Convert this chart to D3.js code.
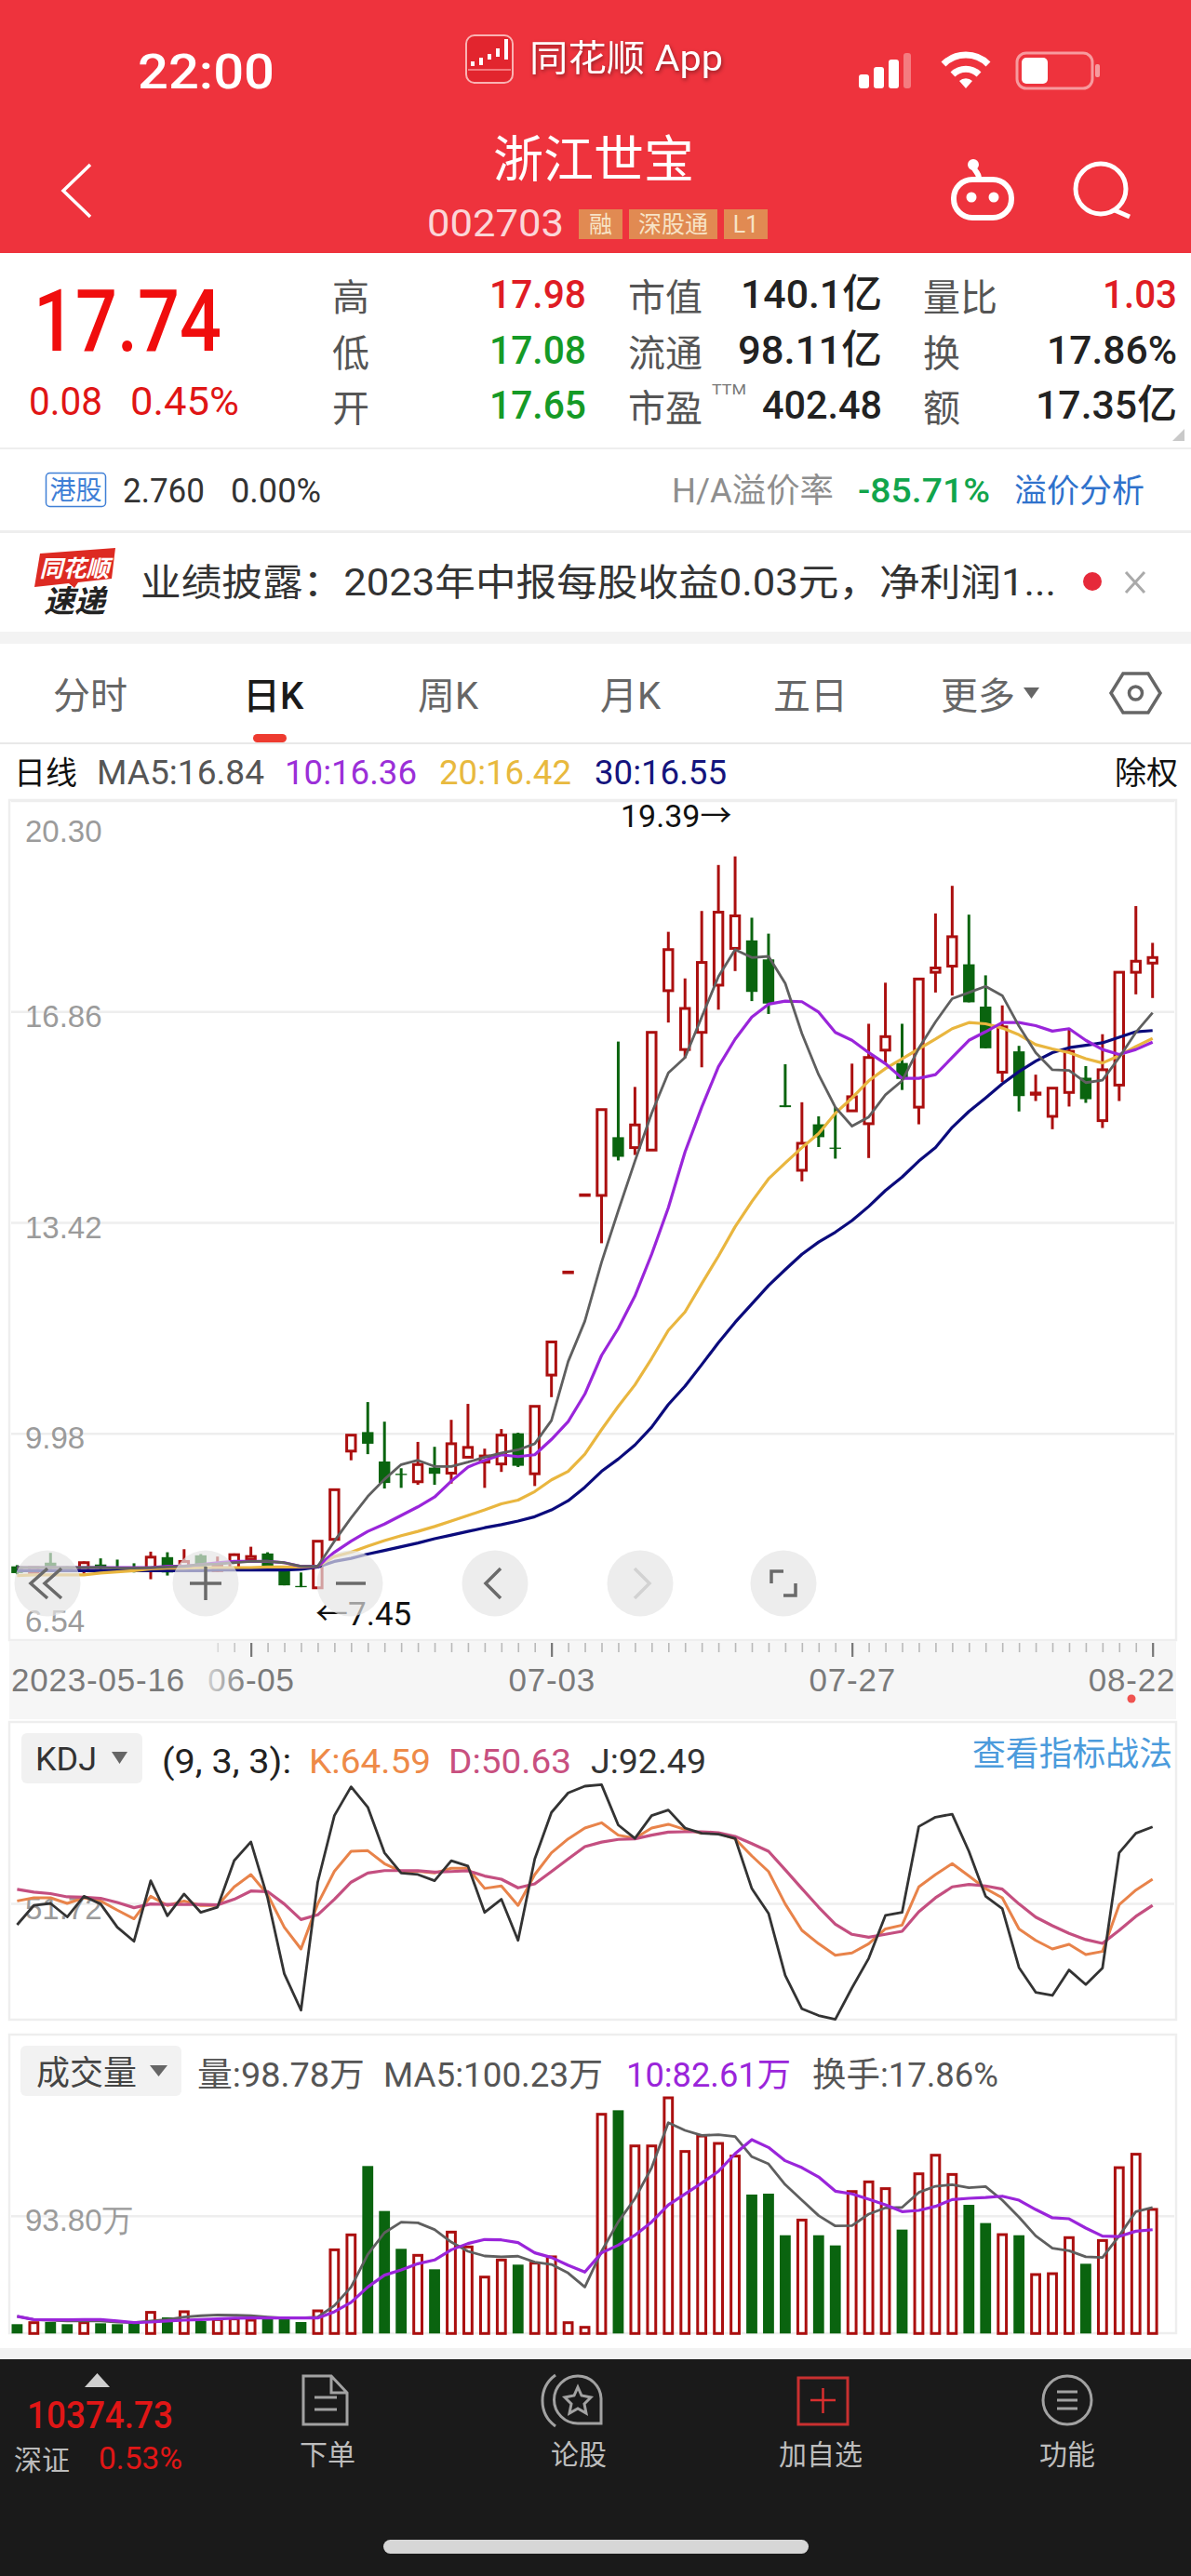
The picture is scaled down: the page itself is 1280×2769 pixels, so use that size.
<!DOCTYPE html>
<html lang="zh">
<head>
<meta charset="utf-8">
<title>浙江世宝 日K</title>
<script src="https://cdn.jsdelivr.net/npm/d3@7"></script>
<style>
  html, body { margin: 0; padding: 0; background: #fff; }
  svg { display: block; font-family: Roboto, "Noto Sans CJK SC", sans-serif; }
</style>
</head>
<body>
<div id="chart"></div>
<script>
const opens = [7.81,7.71,7.87,7.79,7.74,7.84,7.79,7.79,7.77,7.96,7.77,7.99,7.74,7.77,7.92,8.02,7.77,7.49,7.46,8.25,9.69,10.00,9.52,9.32,9.19,9.42,9.33,9.59,9.51,9.48,9.98,9.32,10.93,12.60,13.86,13.86,14.81,14.64,14.60,17.20,16.24,16.52,17.29,17.89,18.02,17.71,15.33,14.27,15.02,14.64,15.24,15.03,16.23,16.02,15.30,17.50,17.60,17.63,16.94,15.87,16.21,15.51,15.15,15.54,15.78,15.08,15.66,17.50,17.65];
const highs = [7.83,7.80,8.03,7.81,7.89,7.94,7.92,7.86,8.05,8.04,8.09,8.01,7.97,8.02,8.13,8.04,7.79,7.71,8.22,9.06,9.95,10.49,10.17,9.41,9.84,9.76,10.20,10.46,9.73,10.05,9.99,10.42,11.47,12.61,13.87,15.26,16.37,15.63,16.52,18.16,17.40,18.50,19.25,19.39,18.39,18.13,16.00,15.38,15.15,15.30,16.01,16.66,17.33,16.66,17.39,18.46,18.91,18.44,17.45,16.96,16.30,15.83,15.61,16.57,15.97,16.49,17.50,18.58,17.98];
const lows = [7.68,7.70,7.74,7.72,7.69,7.74,7.77,7.71,7.60,7.66,7.77,7.77,7.72,7.75,7.89,7.77,7.50,7.47,7.45,8.25,9.54,9.64,9.08,9.09,9.14,9.14,9.16,9.59,9.09,9.35,9.43,9.12,10.57,12.60,13.86,13.08,14.43,14.52,14.60,16.68,16.10,15.95,16.89,17.52,17.03,16.82,15.30,14.09,14.65,14.46,15.24,14.47,16.01,15.58,15.02,17.17,17.12,17.01,16.26,15.71,15.23,15.40,14.94,15.31,15.37,14.96,15.40,17.14,17.08];
const closes = [7.70,7.79,7.77,7.74,7.87,7.77,7.77,7.77,7.96,7.71,7.89,7.77,7.82,8.00,7.97,7.77,7.50,7.47,8.22,9.06,9.95,9.81,9.17,9.30,9.47,9.32,9.81,9.75,9.61,9.95,9.45,10.42,11.47,12.61,13.87,15.26,14.49,15.01,16.52,17.87,16.91,17.66,18.48,18.42,17.18,16.99,15.30,14.71,14.81,14.62,15.47,16.11,16.45,15.76,17.39,17.57,18.08,17.01,16.26,16.61,15.48,15.53,15.61,16.21,15.43,15.91,17.50,17.68,17.74];

const ma5 = [7.79,7.79,7.79,7.79,7.79,7.79,7.78,7.78,7.79,7.80,7.81,7.84,7.85,7.87,7.89,7.89,7.87,7.81,7.81,8.22,8.60,8.95,9.23,9.47,9.54,9.44,9.44,9.51,9.59,9.66,9.71,9.81,10.19,11.15,11.81,12.77,13.61,14.42,15.20,15.86,16.11,16.77,17.43,17.87,17.74,17.76,17.32,16.50,15.83,15.30,14.99,15.14,15.50,15.73,16.26,16.69,17.07,17.17,17.27,17.12,16.62,16.19,15.91,15.90,15.70,15.74,16.11,16.52,16.84];
const ma10 = [7.79,7.79,7.79,7.79,7.79,7.79,7.79,7.79,7.79,7.81,7.81,7.84,7.87,7.89,7.89,7.89,7.87,7.81,7.81,8.04,8.22,8.38,8.50,8.64,8.78,8.94,9.20,9.43,9.54,9.63,9.60,9.63,9.88,10.17,10.62,11.25,11.69,12.22,12.90,13.66,14.57,15.30,15.96,16.41,16.77,16.98,17.03,17.02,16.85,16.52,16.39,16.19,16.01,15.77,15.77,15.83,16.11,16.39,16.53,16.68,16.68,16.63,16.54,16.58,16.39,16.24,16.16,16.24,16.36];
const ma20 = [7.66,7.67,7.67,7.67,7.67,7.70,7.72,7.74,7.77,7.78,7.78,7.79,7.79,7.79,7.79,7.80,7.80,7.80,7.81,7.97,8.04,8.14,8.23,8.31,8.38,8.46,8.55,8.64,8.73,8.83,8.89,9.03,9.22,9.36,9.64,10.04,10.42,10.77,11.20,11.66,11.96,12.42,12.87,13.35,13.76,14.13,14.39,14.64,14.87,15.20,15.45,15.73,15.93,16.09,16.25,16.41,16.58,16.68,16.66,16.59,16.48,16.32,16.25,16.19,16.09,16.02,16.14,16.29,16.42];
const ma30 = [7.74,7.74,7.74,7.74,7.74,7.74,7.74,7.74,7.74,7.74,7.74,7.74,7.75,7.75,7.75,7.75,7.75,7.76,7.80,7.89,7.94,8.01,8.07,8.13,8.19,8.26,8.32,8.38,8.44,8.49,8.55,8.62,8.73,8.88,9.10,9.36,9.56,9.79,10.08,10.45,10.75,11.10,11.46,11.79,12.09,12.39,12.65,12.90,13.10,13.26,13.45,13.68,13.94,14.16,14.42,14.64,14.97,15.23,15.45,15.68,15.88,16.05,16.19,16.27,16.31,16.35,16.44,16.53,16.55];

const kLine = [53.0,54.7,54.7,51.7,54.7,53.0,48.1,43.5,55.5,50.6,53.0,50.6,50.6,60.5,67.1,56.4,39.0,27.4,51.4,68.8,79.5,79.8,72.9,68.8,68.8,67.9,70.4,70.4,59.7,61.0,50.6,67.1,78.7,86.1,91.9,94.7,88.1,86.4,91.9,93.9,91.1,89.1,89.1,86.1,77.0,68.7,51.4,37.3,30.2,24.1,25.3,30.2,38.1,40.1,60.5,67.1,72.9,66.3,59.6,54.7,38.1,32.0,27.4,29.9,24.4,26.1,51.0,58.8,64.59];
const dLine = [59.2,57.7,56.9,55.2,55.0,54.4,52.2,49.4,51.4,51.1,51.2,51.1,50.9,53.9,58.3,58.0,51.4,43.1,45.6,53.9,63.0,67.9,69.2,69.2,69.1,68.4,68.7,69.1,66.3,64.6,60.0,62.1,68.7,75.4,82.0,84.4,85.8,86.1,88.1,89.7,89.9,89.9,89.4,87.4,83.6,79.5,69.6,59.6,49.7,40.6,35.2,33.7,35.2,36.8,47.2,54.7,60.5,61.8,61.0,59.3,51.4,44.4,39.8,35.7,32.4,30.4,37.3,44.8,50.63];
const jLine = [40.3,50.6,51.7,44.5,55.5,51.4,39.0,31.5,63.8,45.1,56.7,46.9,49.7,74.5,84.5,54.7,14.2,-5.2,63.0,98.5,113.9,103.0,78.7,67.9,67.1,63.8,74.5,71.6,46.9,53.9,32.0,75.4,100.2,110.6,114.2,115.0,93.5,86.4,98.5,101.5,91.9,89.1,88.6,86.4,59.6,46.4,13.3,-4.5,-8.1,-10.1,6.7,22.4,45.3,46.9,92.7,97.7,99.3,79.5,55.5,48.9,17.5,4.3,2.6,16.2,8.4,17.2,78.7,89.1,92.49];

const volume = [7.4,8.6,9.1,7.4,8.6,8.1,7.4,8.6,16.8,12.8,17.3,9.9,11.1,11.6,10.6,11.6,12.3,9.1,18.0,66.6,78.5,133.3,97.5,67.4,62.2,51.1,80.7,68.9,44.9,58.5,54.8,56.0,61.0,8.6,4.9,174.5,177.7,149.3,149.3,187.6,144.9,157.2,151.3,141.2,110.6,111.3,78.2,90.3,78.2,70.1,113.0,120.7,115.3,82.7,127.1,141.9,126.6,102.4,87.9,78.7,78.2,46.9,47.6,76.3,55.5,74.0,132.0,142.7,98.78];
const volMa5 = [13.6,11.1,10.6,9.9,9.9,9.9,9.1,8.6,9.9,11.1,13.1,14.1,14.8,14.6,14.1,13.1,12.3,12.3,13.1,22.2,37.0,62.9,80.2,88.6,88.1,82.7,72.8,65.4,61.7,61.0,61.5,56.8,55.0,48.1,37.0,65.4,88.8,107.4,132.0,167.8,161.7,157.7,158.2,156.7,140.7,135.0,118.5,106.1,93.8,85.6,85.9,95.0,100.0,100.4,112.3,117.2,118.5,116.0,117.0,106.1,92.6,77.7,67.9,65.9,61.0,60.5,77.7,97.0,100.23];
const volMa10 = [13.6,11.1,10.9,10.9,11.1,11.1,9.9,8.6,9.1,9.9,10.6,11.1,11.6,12.1,12.3,12.3,12.3,12.3,12.3,17.3,24.7,37.0,46.4,50.6,55.5,58.5,66.6,71.6,74.8,74.5,72.3,64.2,60.5,54.3,48.9,64.2,70.3,78.2,88.8,102.4,111.1,119.7,129.1,143.1,154.3,148.1,137.5,132.0,124.6,113.3,111.1,106.9,102.4,97.0,98.0,101.2,106.6,107.6,108.3,109.3,106.1,98.7,92.1,91.3,83.9,77.5,77.2,81.4,82.61];

const priceTicks = [6.54, 9.98, 13.42, 16.86, 20.3];
const dateTickAt = [0, 14, 32, 50, 68];
const dateLabels = ['2023-05-16', '06-05', '07-03', '07-27', '08-22'];
const kdjTick = [51.72];
const volumeTick = [93.8];

const maLegend = [['MA5:16.84', '#555555'], ['10:16.36', '#9b2fd8'], ['20:16.42', '#e8b93e'], ['30:16.55', '#14147d']];
const maColors = ['#5f5f5f', '#9a25da', '#e9b63f', '#0b0b7c'];
const tabs = ['分时', '日K', '周K', '月K', '五日', '更多'];

const RED = '#ab0f0f';
const GREEN = '#0a640f';

const svg = d3.select('#chart').append('svg').attr('width', 1280).attr('height', 2769);

const text = (g, x, y, str, size, fill, opts = {}) =>
  g.append('text')
    .attr('x', x)
    .attr('y', y)
    .attr('font-size', size)
    .attr('fill', fill)
    .attr('text-anchor', opts.anchor || 'start')
    .attr('font-weight', opts.weight || 400)
    .attr('textLength', opts.len || null)
    .attr('lengthAdjust', opts.len ? 'spacingAndGlyphs' : null)
    .text(str);

const x = d3.scaleLinear().domain([0, 68]).range([18.4, 1238.7]);
const yPrice = d3.scaleLinear().domain([6.54, 20.3]).range([1767.4, 860.6]);
const yKdj = d3.scaleLinear().domain([-10.3, 115.2]).range([2171, 1918]);
const yVol = d3.scaleLinear().domain([0, 187.6]).range([2508.3, 2255]);
const days = d3.range(opens.length);
const isUp = (i) => closes[i] >= opens[i];

const drawLine = (g, series, yScale, color, width) =>
  g.append('path')
    .datum(series)
    .attr('fill', 'none')
    .attr('stroke', color)
    .attr('stroke-width', width)
    .attr('stroke-linejoin', 'round')
    .attr('d', d3.line().x((d, i) => x(i)).y((d) => yScale(d)));

const drawGrid = (g, scale, values, format, dy) => {
  const axis = g.append('g')
    .attr('transform', 'translate(12,0)')
    .call(d3.axisRight(scale).tickValues(values).tickSize(1250).tickFormat(format));
  axis.select('.domain').remove();
  axis.selectAll('line').attr('stroke', '#eeeeee').attr('stroke-width', 2.5);
  axis.selectAll('text')
    .attr('x', 15)
    .attr('dy', 0)
    .attr('y', dy)
    .attr('font-size', 33)
    .attr('font-family', 'inherit')
    .attr('fill', '#9b9b9b')
    .attr('text-anchor', 'start');
};

const frame = (g, top, bottom) =>
  g.append('rect')
    .attr('x', 10).attr('y', top).attr('width', 1254).attr('height', bottom - top)
    .attr('fill', 'none').attr('stroke', '#eeeeee').attr('stroke-width', 2.5);

const drawHeader = (g) => {
  g.append('rect').attr('width', 1280).attr('height', 272).attr('fill', '#ee333d');
  text(g, 148, 95, '22:00', 52, '#fff', { weight: 500, len: 147 });

  const logo = g.append('g');
  logo.append('rect').attr('x', 501).attr('y', 38).attr('width', 50).attr('height', 51).attr('rx', 9)
    .attr('fill', '#e2252e').attr('stroke', '#f9b3b3').attr('stroke-width', 2);
  [[506, 66, 5], [515, 62, 8], [524, 58, 6], [533, 52, 9], [542, 42, 22]].forEach(([a, b, c]) =>
    logo.append('rect').attr('x', a).attr('y', b).attr('width', 4).attr('height', c).attr('fill', '#fff'));
  logo.append('rect').attr('x', 503).attr('y', 74).attr('width', 46).attr('height', 2).attr('fill', '#f4777c');

  text(g, 569, 76, '同花顺 App', 39, '#fff', { len: 208 })
    .style('filter', 'drop-shadow(1px 2px 2px rgba(0,0,0,.4))');

  [[923, 80, 15], [939, 72, 23], [955, 64, 31], [971, 57, 38]].forEach(([a, b, c], i) =>
    g.append('rect').attr('x', a).attr('y', b).attr('width', i === 3 ? 8 : 11).attr('height', c).attr('rx', 3)
      .attr('fill', i === 3 ? '#f47c80' : '#fff'));

  const wifi = g.append('g').attr('transform', 'translate(1038,95)')
    .attr('fill', 'none').attr('stroke', '#fff').attr('stroke-width', 7);
  wifi.append('path').attr('d', 'M-24,-26 A34,34 0 0 1 24,-26');
  wifi.append('path').attr('d', 'M-14,-15 A20,20 0 0 1 14,-15');
  wifi.append('path').attr('d', 'M0,0 L-7,-8 A10,10 0 0 1 7,-8 Z').attr('fill', '#fff').attr('stroke', 'none');

  g.append('rect').attr('x', 1093).attr('y', 57).attr('width', 81).attr('height', 38).attr('rx', 10)
    .attr('fill', 'none').attr('stroke', '#f79a9e').attr('stroke-width', 3);
  g.append('rect').attr('x', 1098).attr('y', 62).attr('width', 28).attr('height', 28).attr('rx', 5).attr('fill', '#fff');
  g.append('rect').attr('x', 1177).attr('y', 69).attr('width', 5).attr('height', 14).attr('rx', 2).attr('fill', '#f79a9e');

  g.append('path').attr('d', 'M97,177 L68,205 L97,233').attr('fill', 'none').attr('stroke', '#fff').attr('stroke-width', 3.5);
  text(g, 638, 191, '浙江世宝', 54, '#fff', { anchor: 'middle' });
  text(g, 459, 254, '002703', 40, '#fbd6d8', { len: 147 });

  [[622, 47, '融'], [676, 95, '深股通'], [778, 47, 'L1']].forEach(([a, w, s]) => {
    g.append('rect').attr('x', a).attr('y', 225).attr('width', w).attr('height', 32).attr('fill', '#e18a52');
    text(g, a + w / 2, 250, s, 25, '#f7e3c6', { anchor: 'middle' });
  });

  const robot = g.append('g').attr('fill', 'none').attr('stroke', '#fff').attr('stroke-width', 6);
  robot.append('rect').attr('x', 1025).attr('y', 193).attr('width', 62).attr('height', 41).attr('rx', 20);
  robot.append('path').attr('d', 'M1052,192 C1052,184 1046,184 1046,178');
  robot.append('circle').attr('cx', 1046).attr('cy', 177).attr('r', 3).attr('fill', '#fff');
  robot.append('circle').attr('cx', 1044).attr('cy', 212).attr('r', 2.5).attr('fill', '#fff');
  robot.append('circle').attr('cx', 1068).attr('cy', 212).attr('r', 2.5).attr('fill', '#fff');

  g.append('circle').attr('cx', 1183).attr('cy', 203).attr('r', 27)
    .attr('fill', 'none').attr('stroke', '#fff').attr('stroke-width', 5);
  g.append('path').attr('d', 'M1198,226 L1214,233').attr('stroke', '#fff').attr('stroke-width', 5);
};

const drawQuote = (g) => {
  text(g, 36, 377, '17.74', 92, '#f00d0d', { weight: 500, len: 202 });
  text(g, 31, 446, '0.08', 42, '#e01515', { len: 79 });
  text(g, 140, 446, '0.45%', 42, '#e01515', { len: 117 });

  const rows = [334, 394, 453];
  const rowText = (px, col) => col.forEach(([s, c], i) => text(g, px, rows[i], s, 40, c || '#555'));
  const rowNum = (px, col) => col.forEach(([s, c, l], i) =>
    text(g, px, rows[i] - 3, s, 43, c, { anchor: 'end', weight: 500, len: l }));

  rowText(357, [['高'], ['低'], ['开']]);
  rowNum(630, [['17.98', '#df1c24', 104], ['17.08', '#159a26', 104], ['17.65', '#159a26', 104]]);
  rowText(675, [['市值'], ['流通'], ['市盈']]);
  rowNum(948, [['140.1亿', '#222', 152], ['98.11亿', '#222', 155], ['402.48', '#222', 129]]);
  rowText(992, [['量比'], ['换'], ['额']]);
  rowNum(1265, [['1.03', '#df1c24', 80], ['17.86%', '#222', 140], ['17.35亿', '#222', 152]]);
  text(g, 765, 424, 'TTM', 15, '#777', { len: 37 });
  g.append('path').attr('d', 'M1273,461 L1273,474 L1260,474 Z').attr('fill', '#c9c9c9');

  g.append('rect').attr('y', 481).attr('width', 1280).attr('height', 2).attr('fill', '#eeeeee');

  g.append('rect').attr('x', 49.5).attr('y', 508.5).attr('width', 64).attr('height', 36).attr('rx', 4)
    .attr('fill', 'none').attr('stroke', '#3f7fd6').attr('stroke-width', 1.5);
  text(g, 81.5, 537, '港股', 28, '#3f7fd6', { anchor: 'middle' });
  text(g, 132, 540, '2.760', 37, '#333', { len: 88 });
  text(g, 248, 540, '0.00%', 37, '#333', { len: 97 });
  text(g, 722, 540, 'H/A溢价率', 36, '#8e8e8e', { len: 174 });
  text(g, 922, 540, '-85.71%', 37, '#12a54c', { weight: 500, len: 142 });
  text(g, 1090, 540, '溢价分析', 35, '#2f72cc', { len: 140 });
  g.append('rect').attr('y', 570).attr('width', 1280).attr('height', 3).attr('fill', '#eeeeee');

  g.append('path').attr('d', 'M43,595 L124,589 L120,622 L84,626 L80,632 L74,627 L37,631 Z').attr('fill', '#dd2a22');
  text(g, 80, 620, '同花顺', 25, '#fff', { anchor: 'middle', weight: 700 }).attr('font-style', 'italic');
  text(g, 80, 658, '速递', 33, '#222', { anchor: 'middle', weight: 700 }).attr('font-style', 'italic');
  text(g, 151, 640, '业绩披露：2023年中报每股收益0.03元，净利润1...', 40, '#333', { len: 984 });
  g.append('circle').attr('cx', 1174).attr('cy', 625).attr('r', 10).attr('fill', '#e62a3a');
  g.append('path').attr('d', 'M1210,615 L1230,637 M1230,615 L1210,637').attr('stroke', '#aaa').attr('stroke-width', 3);

  g.append('rect').attr('y', 679).attr('width', 1280).attr('height', 13).attr('fill', '#f3f3f3');
};

const drawTabs = (g) => {
  const tabX = [57, 261, 449, 645, 831, 1011];
  tabs.forEach((t, i) => text(g, tabX[i], 762, t, 40, i === 1 ? '#1a1a1a' : '#666', { weight: i === 1 ? 500 : 400 }));
  g.append('path').attr('d', 'M1100,739 L1117,739 L1108.5,751 Z').attr('fill', '#666');
  g.append('path').attr('d', 'M1207,724 L1234,724 L1247,745 L1234,766 L1207,766 L1194,745 Z')
    .attr('fill', 'none').attr('stroke', '#666').attr('stroke-width', 3.5);
  g.append('circle').attr('cx', 1220.5).attr('cy', 745).attr('r', 7)
    .attr('fill', 'none').attr('stroke', '#666').attr('stroke-width', 3.5);
  g.append('rect').attr('x', 272).attr('y', 789).attr('width', 36).attr('height', 9).attr('rx', 4.5).attr('fill', '#ee3b30');
  g.append('rect').attr('y', 798).attr('width', 1280).attr('height', 2).attr('fill', '#e8e8e8');

  text(g, 15, 843, '日线', 34, '#111');
  const legendX = [104, 306, 472, 639];
  maLegend.forEach(([s, c], i) => text(g, legendX[i], 843, s, 36, c, { len: i === 0 ? 180 : 142 }));
  text(g, 1198, 843, '除权', 34, '#111');
};

const drawCandles = (g) => {
  frame(g, 860, 1763);
  drawGrid(g, yPrice, priceTicks, d3.format('.2f'),
    (d) => (d === 20.3 ? 44 : d === 6.54 ? -14 : 16));

  const candle = g.append('g').selectAll('g').data(days).join('g');
  candle.append('line')
    .attr('x1', (i) => x(i)).attr('x2', (i) => x(i))
    .attr('y1', (i) => yPrice(highs[i])).attr('y2', (i) => yPrice(lows[i]))
    .attr('stroke', (i) => (isUp(i) ? RED : GREEN))
    .attr('stroke-width', 3);
  candle.append('rect')
    .attr('x', (i) => x(i) - (isUp(i) ? 4.7 : 6.2))
    .attr('width', (i) => (isUp(i) ? 9.4 : 12.4))
    .attr('y', (i) => yPrice(Math.max(opens[i], closes[i])))
    .attr('height', (i) => Math.max(0.5, yPrice(Math.min(opens[i], closes[i])) - yPrice(Math.max(opens[i], closes[i]))))
    .attr('fill', (i) => (isUp(i) ? '#fff' : GREEN))
    .attr('stroke', (i) => (isUp(i) ? RED : 'none'))
    .attr('stroke-width', 3);

  [ma30, ma20, ma10, ma5].forEach((series, i) => drawLine(g, series, yPrice, maColors[3 - i], i === 3 ? 2.8 : 3.2));

  text(g, 667, 889, '19.39→', 34, '#111');
  text(g, 339, 1747, '←7.45', 35, '#111');
};

const drawButtons = (g) => {
  const centers = [51, 221, 376, 532, 688, 842];
  g.selectAll('circle').data(centers).join('circle')
    .attr('cx', (d) => d).attr('cy', 1702).attr('r', 35.5)
    .attr('fill', 'rgba(229,229,229,0.68)');
  const glyph = (d, color = '#6a6a6a') =>
    g.append('path').attr('d', d).attr('fill', 'none').attr('stroke', color).attr('stroke-width', 3.5);
  glyph('M51,1686 L33,1702 L51,1718 M66,1686 L48,1702 L66,1718');
  glyph('M204,1702 L238,1702 M221,1684 L221,1720');
  glyph('M361,1702 L393,1702');
  glyph('M538,1686 L522,1702 L538,1718');
  glyph('M682,1686 L698,1702 L682,1718', '#d2d2d2');
  glyph('M829,1702 L829,1689 L842,1689 M855,1702 L855,1715 L842,1715');
};

const drawDateStrip = (g) => {
  const fade = svg.append('defs').append('linearGradient').attr('id', 'fade');
  fade.append('stop').attr('offset', 0).attr('stop-color', '#f6f6f6');
  fade.append('stop').attr('offset', 1).attr('stop-color', '#f6f6f6').attr('stop-opacity', 0);

  g.append('rect').attr('x', 10).attr('y', 1764).attr('width', 1254).attr('height', 84).attr('fill', '#f6f6f6');

  const minor = g.append('g').attr('transform', 'translate(0,1766)')
    .call(d3.axisBottom(x).tickValues(d3.range(12, 69)).tickSize(10).tickFormat(''));
  minor.select('.domain').remove();
  minor.selectAll('line').attr('stroke', '#b9b9b9').attr('stroke-width', 1.6);

  const major = g.append('g').attr('transform', 'translate(0,1766)')
    .call(d3.axisBottom(x).tickValues(dateTickAt).tickSize(15)
      .tickFormat((d, i) => dateLabels[i]));
  major.select('.domain').remove();
  major.selectAll('line').attr('stroke', (d) => (d === 0 ? 'none' : '#777')).attr('stroke-width', 2.2);
  major.selectAll('text')
    .attr('y', 52)
    .attr('dy', 0)
    .attr('font-size', 35)
    .attr('font-family', 'inherit')
    .attr('letter-spacing', 0.8)
    .attr('fill', '#7a7a7a')
    .attr('text-anchor', (d) => (d === 0 ? 'start' : d === 68 ? 'end' : 'middle'))
    .attr('x', (d) => (d === 0 ? -7 : d === 68 ? 24 : 0));

  g.append('rect').attr('x', 205).attr('y', 1764).attr('width', 60).attr('height', 60).attr('fill', 'url(#fade)');
  g.append('circle').attr('cx', 1216).attr('cy', 1826).attr('r', 4.5).attr('fill', '#ef5350');
};

const drawKdj = (g) => {
  frame(g, 1851, 2171);
  drawGrid(g, yKdj, kdjTick, d3.format('.2f'), 17);

  g.append('rect').attr('x', 23).attr('y', 1863).attr('width', 130).attr('height', 54).attr('rx', 6).attr('fill', '#f1f1f1');
  text(g, 38, 1903, 'KDJ', 35, '#333', { len: 66 });
  g.append('path').attr('d', 'M120,1883 L137,1883 L128.5,1896 Z').attr('fill', '#666');
  text(g, 174, 1906, '(9, 3, 3):', 36, '#222', { len: 139 });
  text(g, 332, 1906, 'K:64.59', 36, '#ee8a48', { len: 131 });
  text(g, 482, 1906, 'D:50.63', 36, '#c8507f', { len: 132 });
  text(g, 635, 1906, 'J:92.49', 36, '#333', { len: 124 });
  text(g, 1045, 1898, '查看指标战法', 36, '#4b9bdc', { len: 215 });

  drawLine(g, kLine, yKdj, '#e8834a', 3);
  drawLine(g, dLine, yKdj, '#c44f80', 3.2);
  drawLine(g, jLine, yKdj, '#333333', 2.8);
};

const drawVolume = (g) => {
  frame(g, 2187, 2508);
  drawGrid(g, yVol, volumeTick, (d) => `${d3.format('.2f')(d)}万`, 16);

  g.append('rect').attr('x', 22).attr('y', 2199).attr('width', 173).attr('height', 54).attr('rx', 6).attr('fill', '#f2f2f2');
  text(g, 39, 2241, '成交量', 36, '#444');
  g.append('path').attr('d', 'M161,2220 L180,2220 L170.5,2232 Z').attr('fill', '#666');
  text(g, 212, 2243, '量:98.78万', 36, '#555', { len: 180 });
  text(g, 412, 2243, 'MA5:100.23万', 36, '#555', { len: 236 });
  text(g, 673, 2243, '10:82.61万', 36, '#9a25da', { len: 177 });
  text(g, 873, 2243, '换手:17.86%', 36, '#555', { len: 200 });

  g.append('g').selectAll('rect').data(days).join('rect')
    .attr('x', (i) => x(i) - (isUp(i) ? 4.4 : 5.9))
    .attr('width', (i) => (isUp(i) ? 8.8 : 11.8))
    .attr('y', (i) => yVol(volume[i]))
    .attr('height', (i) => yVol(0) - yVol(volume[i]))
    .attr('fill', (i) => (isUp(i) ? '#fff' : GREEN))
    .attr('stroke', (i) => (isUp(i) ? RED : 'none'))
    .attr('stroke-width', 3);

  drawLine(g, volMa5, yVol, '#5f5f5f', 2.8);
  drawLine(g, volMa10, yVol, '#9a25da', 3.2);
};

const drawNav = (g) => {
  g.append('rect').attr('y', 2524).attr('width', 1280).attr('height', 12).attr('fill', '#f2f2f2');
  g.append('rect').attr('y', 2536).attr('width', 1280).attr('height', 233).attr('fill', '#1a1a1a');

  g.append('path').attr('d', 'M91,2566 L118,2566 L104.5,2551 Z').attr('fill', '#cfcfcf');
  text(g, 29, 2610, '10374.73', 40, '#e01616', { len: 157, weight: 500 });
  text(g, 15, 2655, '深证', 30, '#bcbcbc');
  text(g, 106, 2654, '0.53%', 34, '#e01616', { len: 90 });

  [[322, '下单'], [592, '论股'], [837, '加自选'], [1117, '功能']].forEach(([px, s]) =>
    text(g, px, 2649, s, 30, '#bdbdbd'));

  const icon = g.append('g').attr('fill', 'none').attr('stroke', '#a2a2a2').attr('stroke-width', 3);
  icon.append('path').attr('d', 'M326,2554 L356,2554 L373,2572 L373,2606 L326,2606 Z M356,2554 L356,2572 L373,2572');
  icon.append('path').attr('d', 'M338,2577 L362,2577 M338,2590 L362,2590');
  icon.append('path').attr('d', 'M597,2553 A34,34 0 0 0 597,2608');
  icon.append('path').attr('d', 'M621,2554 A25,25 0 0 1 646,2578 L646,2605 L621,2605 A25.5,25.5 0 0 1 621,2554 Z');
  icon.append('path').attr('d', 'M621,2566 L625,2575 L635,2577 L628,2584 L630,2594 L621,2589 L612,2594 L614,2584 L607,2577 L617,2575 Z');
  icon.append('circle').attr('cx', 1147).attr('cy', 2580).attr('r', 26);
  icon.append('path').attr('d', 'M1136,2571 L1158,2571 M1136,2580 L1158,2580 M1136,2589 L1158,2589');

  g.append('rect').attr('x', 858).attr('y', 2556).attr('width', 53).attr('height', 50)
    .attr('fill', 'none').attr('stroke', '#c93030').attr('stroke-width', 3);
  g.append('path').attr('d', 'M871,2580 L898,2580 M884.5,2567 L884.5,2594').attr('stroke', '#d92f2f').attr('stroke-width', 2.5);

  g.append('rect').attr('x', 412).attr('y', 2730).attr('width', 457).attr('height', 15).attr('rx', 7.5).attr('fill', '#d6d6d6');
};

drawHeader(svg.append('g'));
drawQuote(svg.append('g'));
drawTabs(svg.append('g'));
drawCandles(svg.append('g'));
drawDateStrip(svg.append('g'));
drawButtons(svg.append('g'));
drawKdj(svg.append('g'));
drawVolume(svg.append('g'));
drawNav(svg.append('g'));
</script>
</body>
</html>
